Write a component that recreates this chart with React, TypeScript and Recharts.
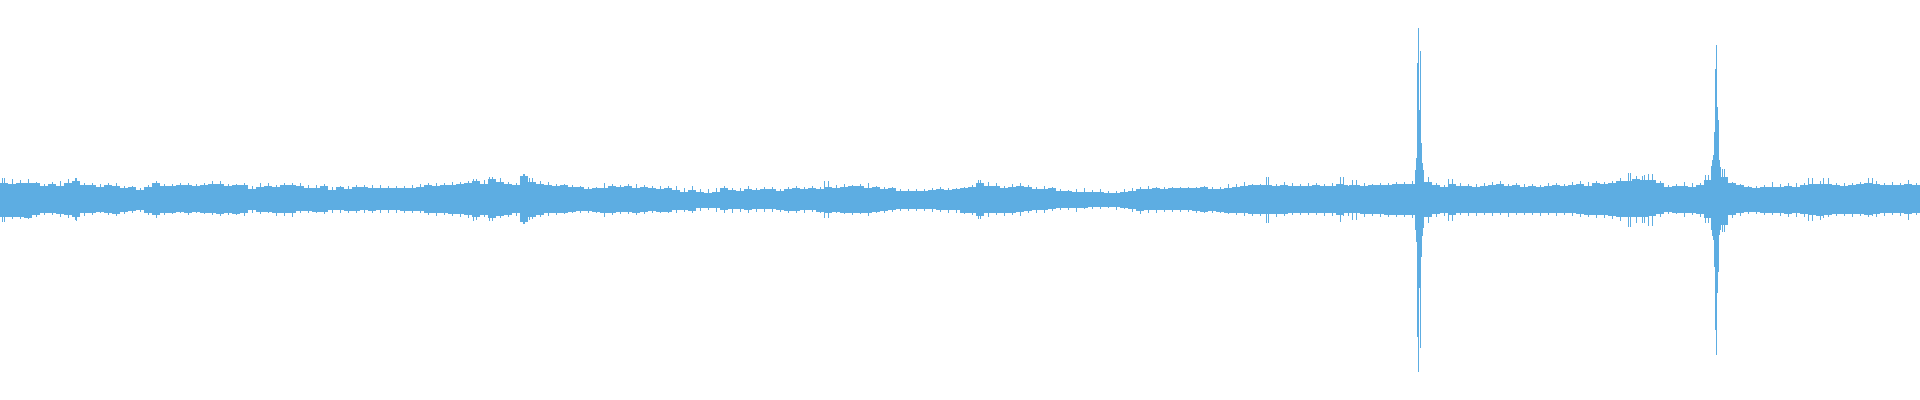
import { BarChart, Bar, XAxis, YAxis } from 'recharts';

// waveform envelope, one value per 8-sample bin (amplitude above / below centre)
const SAMPLES_PER_BIN = 8;
const FRINGE_OFFSET = 4;

const envelopeHi = [
  17, 16, 17, 17, 17, 14, 16, 14, 17, 19, 15, 15, 13, 15, 14, 12, 13, 10, 13, 17, 14, 14, 15, 15, 14, 15, 16, 16, 14, 15,
  15, 11, 13, 14, 13, 15, 15, 14, 12, 12, 14, 10, 13, 11, 13, 13, 12, 12, 12, 12, 12, 12, 13, 15, 14, 15, 15, 16, 17, 19,
  16, 21, 18, 16, 15, 24, 18, 16, 15, 14, 15, 13, 13, 11, 12, 12, 14, 13, 14, 12, 13, 12, 11, 12, 10, 8, 10, 8, 7, 8,
  12, 10, 9, 11, 10, 11, 11, 9, 11, 12, 11, 12, 11, 13, 12, 13, 14, 14, 12, 13, 11, 12, 9, 9, 9, 9, 10, 11, 10, 11,
  12, 13, 17, 14, 14, 12, 13, 14, 13, 11, 11, 12, 9, 9, 8, 8, 8, 8, 7, 7, 8, 9, 11, 11, 12, 11, 12, 12, 12, 12,
  13, 11, 11, 12, 13, 14, 15, 15, 15, 14, 15, 14, 14, 14, 15, 14, 14, 16, 15, 15, 14, 15, 15, 15, 16, 16, 16, 22, 18, 15,
  13, 16, 14, 14, 13, 14, 15, 16, 14, 15, 13, 14, 13, 14, 15, 14, 15, 16, 14, 17, 16, 17, 19, 19, 21, 20, 20, 17, 13, 14,
  14, 13, 15, 20, 28, 23, 17, 15, 13, 12, 13, 13, 13, 14, 13, 15, 16, 16, 16, 15, 14, 15, 16, 17, 16, 15, 15, 15, 16, 15,
];

const envelopeLo = [
  17, 17, 17, 18, 15, 13, 13, 14, 15, 17, 13, 13, 12, 13, 14, 12, 11, 10, 13, 15, 13, 13, 12, 13, 12, 13, 13, 14, 13, 14,
  13, 10, 12, 12, 13, 13, 13, 11, 11, 12, 12, 10, 10, 11, 11, 10, 11, 10, 10, 10, 11, 11, 11, 13, 13, 13, 14, 14, 15, 17,
  15, 18, 16, 15, 13, 22, 17, 15, 13, 13, 13, 12, 11, 11, 12, 13, 13, 12, 12, 13, 12, 11, 12, 12, 10, 10, 11, 8, 8, 8,
  10, 9, 9, 10, 9, 9, 9, 10, 11, 11, 10, 10, 12, 13, 12, 13, 13, 13, 13, 12, 11, 10, 9, 9, 9, 9, 9, 10, 10, 10,
  13, 13, 16, 13, 13, 13, 13, 12, 11, 10, 10, 9, 8, 8, 8, 8, 7, 7, 7, 7, 8, 9, 11, 10, 10, 10, 10, 10, 10, 11,
  12, 11, 12, 13, 13, 13, 14, 14, 14, 14, 14, 13, 13, 13, 13, 13, 13, 15, 13, 13, 14, 14, 14, 15, 15, 15, 15, 22, 17, 14,
  13, 15, 13, 13, 13, 13, 13, 13, 13, 13, 13, 13, 13, 13, 13, 13, 13, 14, 15, 15, 15, 16, 17, 17, 17, 17, 16, 14, 12, 13,
  13, 13, 14, 18, 28, 25, 15, 13, 12, 12, 13, 13, 13, 14, 13, 14, 15, 16, 15, 14, 14, 14, 14, 15, 14, 13, 13, 13, 14, 13,
];

// loudest sample in each bin (the ragged fringe)
const fringeHi = [
  22, 21, 20, 21, 18, 16, 18, 19, 21, 22, 17, 17, 16, 17, 17, 14, 14, 12, 15, 19, 16, 16, 17, 17, 16, 17, 19, 19, 16, 16,
  17, 14, 17, 17, 15, 17, 17, 17, 15, 15, 16, 13, 14, 14, 15, 15, 15, 15, 14, 14, 14, 15, 16, 17, 17, 17, 18, 18, 19, 21,
  20, 23, 22, 18, 17, 26, 22, 19, 18, 16, 16, 15, 14, 13, 13, 17, 16, 15, 16, 16, 15, 14, 14, 14, 14, 12, 14, 11, 11, 12,
  14, 12, 12, 14, 12, 13, 13, 11, 13, 14, 13, 14, 13, 19, 15, 16, 15, 16, 17, 14, 13, 13, 11, 11, 11, 11, 12, 13, 12, 12,
  13, 15, 20, 18, 17, 14, 16, 17, 15, 13, 14, 13, 11, 10, 11, 12, 10, 11, 9, 9, 11, 12, 13, 14, 13, 13, 13, 13, 13, 13,
  14, 13, 13, 16, 16, 18, 16, 16, 23, 16, 18, 17, 16, 17, 17, 16, 17, 23, 14, 20, 17, 16, 17, 17, 18, 18, 19, 22, 23, 17,
  15, 21, 17, 16, 16, 17, 18, 19, 16, 17, 16, 16, 15, 17, 17, 16, 18, 19, 18, 19, 18, 19, 22, 27, 24, 25, 26, 19, 15, 16,
  18, 17, 17, 25, 28, 31, 18, 16, 14, 14, 15, 18, 16, 17, 17, 17, 22, 19, 22, 17, 17, 17, 18, 22, 19, 17, 18, 17, 20, 17,
];

const fringeLo = [
  22, 19, 19, 19, 17, 15, 15, 17, 18, 21, 16, 15, 13, 15, 16, 14, 13, 12, 15, 18, 15, 14, 13, 15, 13, 14, 15, 16, 15, 15,
  16, 13, 14, 13, 16, 16, 17, 13, 13, 13, 14, 13, 13, 13, 13, 13, 13, 13, 13, 13, 13, 13, 13, 15, 16, 15, 16, 17, 18, 20,
  17, 21, 18, 17, 16, 24, 19, 17, 16, 15, 14, 13, 13, 13, 13, 17, 15, 14, 14, 15, 14, 13, 13, 13, 13, 12, 13, 11, 10, 12,
  13, 13, 12, 13, 12, 12, 12, 12, 13, 13, 13, 12, 13, 18, 13, 14, 15, 14, 16, 13, 13, 12, 11, 11, 11, 11, 12, 12, 13, 13,
  14, 15, 19, 17, 15, 16, 15, 16, 13, 13, 13, 11, 10, 10, 12, 9, 9, 9, 8, 10, 9, 12, 14, 13, 13, 12, 12, 12, 12, 13,
  13, 13, 13, 14, 15, 16, 16, 16, 23, 17, 16, 15, 15, 15, 15, 16, 16, 22, 16, 20, 17, 16, 17, 17, 17, 17, 18, 22, 23, 17,
  16, 21, 15, 16, 16, 15, 16, 15, 17, 15, 15, 15, 16, 15, 16, 15, 16, 17, 17, 18, 18, 19, 21, 27, 23, 23, 26, 17, 14, 14,
  17, 15, 17, 23, 28, 32, 18, 16, 14, 14, 15, 15, 16, 17, 17, 17, 21, 20, 17, 16, 16, 17, 16, 17, 17, 16, 15, 16, 20, 15,
];

// single-sample peaks (incl. the two big transients)
const peakCols = [
  2, 75, 473, 489, 523, 529, 824, 978, 1266, 1343, 1352,
  1415, 1416, 1417, 1418, 1419, 1420, 1421, 1422, 1423,
  1448, 1630, 1642, 1648, 1705,
  1711, 1712, 1713, 1714, 1715, 1716, 1717, 1718, 1719, 1720, 1722,
  1808, 1823, 1872,
];
const peakHi = [
  22, 22, 21, 23, 26, 22, 19, 20, 23, 23, 20,
  30, 42, 137, 172, 90, 149, 57, 37, 30,
  21, 27, 24, 26, 25,
  34, 40, 45, 68, 131, 155, 93, 80, 40, 33, 31,
  22, 22, 22,
];
const peakLo = [
  22, 20, 21, 21, 24, 20, 18, 19, 23, 16, 20,
  30, 42, 137, 172, 88, 148, 57, 36, 28,
  21, 27, 23, 26, 23,
  30, 36, 40, 67, 130, 155, 93, 72, 35, 30, 32,
  21, 18, 16,
];

const data = Array.from({ length: envelopeHi.length * SAMPLES_PER_BIN }, (_, i) => {
  const b = Math.floor(i / SAMPLES_PER_BIN);
  const fringe = i % SAMPLES_PER_BIN === FRINGE_OFFSET;
  return {
    col: i,
    amp: fringe ? [-fringeLo[b], fringeHi[b]] : [-envelopeLo[b], envelopeHi[b]],
  };
});
peakCols.forEach((c, k) => {
  data[c].amp = [-peakLo[k], peakHi[k]];
});

export default function App() {
  return (
    <div style={{ position: 'absolute', left: 0, top: 0, background: '#fff' }}>
      <BarChart
        width={1920}
        height={400}
        data={data}
        margin={{ top: 0, right: 0, bottom: 0, left: 0 }}
        barCategoryGap={0}
        barGap={0}
      >
        <XAxis dataKey="col" hide />
        <YAxis hide domain={[-200, 200]} />
        <Bar dataKey="amp" fill="#5DADE2" isAnimationActive={false} shapeRendering="crispEdges" />
      </BarChart>
    </div>
  );
}
